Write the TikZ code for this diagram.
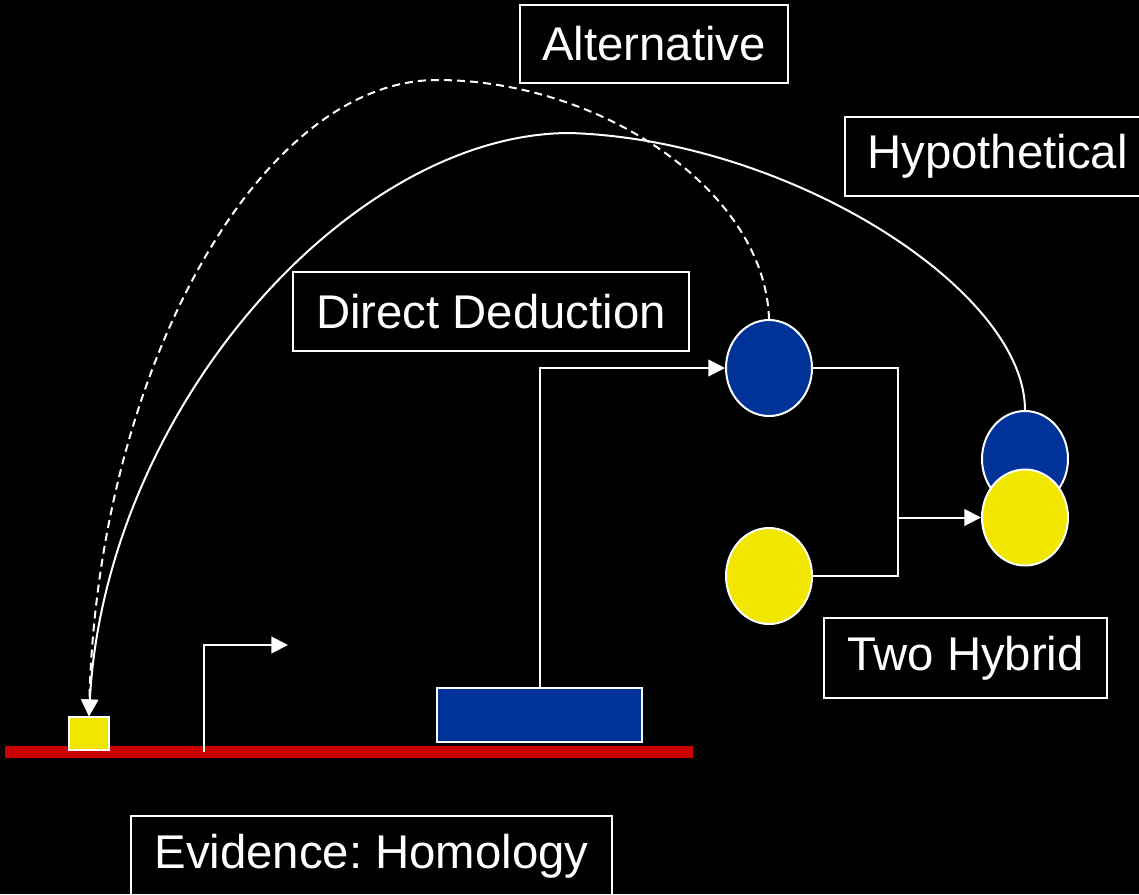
\documentclass[tikz,border=0pt]{standalone}
\usepackage{fontspec}
\setmainfont{Liberation Sans}
\usetikzlibrary{arrows.meta,shapes.geometric}
\definecolor{deepblue}{HTML}{003399}
\definecolor{lemon}{HTML}{F0E600}
\definecolor{dnared}{HTML}{CC0000}
\frenchspacing
\begin{document}
\begin{tikzpicture}[x=0.75pt,y=-0.75pt,
  labelbox/.style={draw=white,line width=1.2pt,text=white,inner sep=0pt,
    font=\fontsize{35.5}{40}\selectfont},
  protein/.style={ellipse,draw=white,line width=1.5pt,inner sep=0pt,
    minimum width=64.5pt,minimum height=72pt},
  wire/.style={draw=white,line width=1.5pt},
  tip/.style={-{Triangle[length=12.5pt,width=12.5pt]}},
  dashline/.style={dash pattern=on 6pt off 3.8pt}]

% page and background
\fill[black] (0,0) rectangle (1139,894);
\clip (0,0) rectangle (1139,894);

% DNA strand with the gene and the small target site
\node[fill=dnared,inner sep=0pt,minimum width=516pt,minimum height=9pt] (dna) at (349,752) {};
\node[fill=lemon,draw=white,line width=1.2pt,inner sep=0pt,minimum width=30pt,minimum height=24.75pt] (site) at (89,733.5) {};
\node[fill=deepblue,draw=white,line width=1.2pt,inner sep=0pt,minimum width=153.75pt,minimum height=40.5pt] (gene) at (539.5,715) {};

% proteins
\node[protein,fill=deepblue] (bait) at (769,368) {};
\node[protein,fill=lemon] (prey) at (769,576) {};
\node[protein,fill=deepblue] (cbait) at (1025,459) {};
\node[protein,fill=lemon] (cprey) at (1025,517.5) {};

% labels
\node[labelbox,minimum width=201pt,minimum height=58.5pt] (alt) at (654,44) {Alternative};
\node[labelbox,minimum width=228.75pt,minimum height=59.25pt] (hyp) at (997.5,156.5) {Hypothetical};
\node[labelbox,minimum width=297pt,minimum height=59.25pt] (dd) at (491,311.5) {Direct Deduction};
\node[labelbox,minimum width=212.25pt,minimum height=60pt] (th) at (965.5,658) {Two Hybrid};
\node[labelbox,minimum width=360.75pt,minimum height=60pt] (ev) at (371.5,856) {Evidence: Homology};

% promoter arrow
\coordinate (pstart) at (204,752);
\coordinate (pend) at (288,645);
\draw[wire,tip] (pstart) |- (pend);

% gene to bait
\draw[wire,tip] (gene.north) |- (bait.west);

% two hybrid combination
\coordinate (join) at (898,517.5);
\draw[wire] (bait.east) -| (join) |- (prey.east);
\draw[wire,tip] (join) -- (cprey.west);

% long-range arcs back to the site
\draw[wire,tip] (cbait.north) .. controls (1025,290) and (790,140) .. (570,133)
  .. controls (350,133) and (105,410) .. (site.north);
\draw[wire,dashline,tip] (bait.north) .. controls (765,190) and (600,80) .. (437,80)
  .. controls (260,80) and (98,369) .. (site.north);
\end{tikzpicture}
\end{document}
